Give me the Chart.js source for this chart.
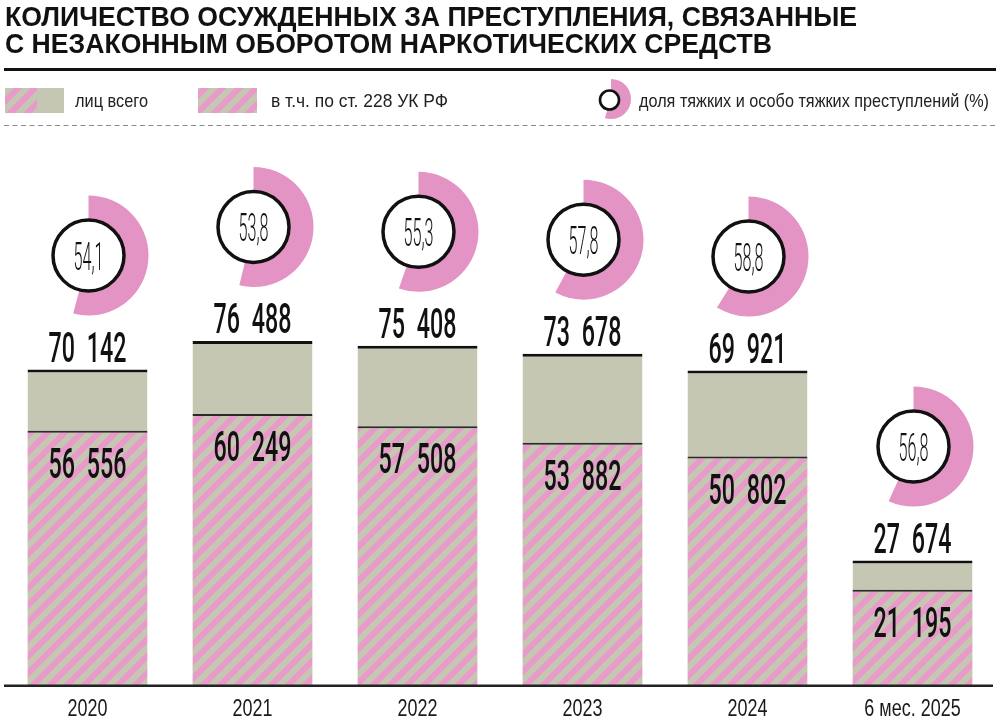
<!DOCTYPE html>
<html><head><meta charset="utf-8">
<script src="https://cdn.jsdelivr.net/npm/chart.js@4/dist/chart.umd.min.js"></script>
<style>html,body{margin:0;padding:0;background:#fff}canvas{display:block}</style>
</head><body>
<canvas id="c" width="1000" height="724"></canvas>
<script>
const categories = ['2020', '2021', '2022', '2023', '2024', '6 мес. 2025'];
const totalConvicted = [70142, 76488, 75408, 73678, 69921, 27674];
const art228Convicted = [56556, 60249, 57508, 53882, 50802, 21195];
const gravePercent = [54.1, 53.8, 55.3, 57.8, 58.8, 56.8];
const titleLines = ['КОЛИЧЕСТВО ОСУЖДЕННЫХ ЗА ПРЕСТУПЛЕНИЯ, СВЯЗАННЫЕ', 'С НЕЗАКОННЫМ ОБОРОТОМ НАРКОТИЧЕСКИХ СРЕДСТВ'];
const legendLabels = ['лиц всего', 'в т.ч. по ст. 228 УК РФ', 'доля тяжких и особо тяжких преступлений (%)'];

const PINK = '#e89bca', GREY = '#c6c7b3', RING = '#e393c4', INK = '#111111';
const canvas = document.getElementById('c');
const ctx0 = canvas.getContext('2d');

function makePattern() {
  const P = 17;
  const c = document.createElement('canvas'); c.width = P; c.height = P;
  const g = c.getContext('2d');
  g.fillStyle = GREY; g.fillRect(0, 0, P, P);
  g.fillStyle = PINK;
  for (let k = 0; k < 3; k++) {
    const a = k * P, b = k * P + P / 2;
    g.beginPath(); g.moveTo(a, 0); g.lineTo(b, 0); g.lineTo(b - P, P); g.lineTo(a - P, P); g.closePath(); g.fill();
  }
  return ctx0.createPattern(c, 'repeat');
}
const stripes = makePattern();

function fmt(n) { return String(n).replace(/\B(?=(\d{3})+(?!\d))/g, '\u2002'); }
function fmtPct(v) { return v.toFixed(1).replace('.', ','); }

function txt(ctx, s, x, y, font, sx, align, color) {
  ctx.save();
  ctx.font = font; ctx.fillStyle = color || INK; ctx.textBaseline = 'alphabetic';
  ctx.textAlign = align || 'left';
  ctx.translate(x, y); ctx.scale(sx, 1); ctx.fillText(s, 0, 0);
  ctx.restore();
}
function widthOf(ctx, s, font) { ctx.save(); ctx.font = font; const w = ctx.measureText(s).width; ctx.restore(); return w; }
function fitTxt(ctx, s, x, y, font, w, color) { txt(ctx, s, x, y, font, w / widthOf(ctx, s, font), 'left', color); }

const deco = {
  id: 'deco',
  beforeDraw(chart) {
    const ctx = chart.ctx;
    // title
    const tf = 'bold 27px "Liberation Sans", Arial, sans-serif';
    fitTxt(ctx, titleLines[0], 5, 26, tf, 852);
    fitTxt(ctx, titleLines[1], 5, 53, tf, 767);
    ctx.save();
    ctx.fillStyle = INK; ctx.fillRect(4, 68, 992, 3);
    // legend swatches
    ctx.fillStyle = GREY; ctx.fillRect(5, 88, 59, 25);
    ctx.save(); ctx.beginPath(); ctx.rect(5, 88, 32, 25); ctx.clip();
    ctx.fillStyle = stripes; ctx.fillRect(5, 88, 59, 25); ctx.restore();
    ctx.fillStyle = stripes; ctx.fillRect(198, 88, 59, 25);
    // legend ring icon
    ctx.fillStyle = RING;
    ctx.beginPath();
    const s0 = -Math.PI / 2, s1 = s0 + 0.55 * Math.PI * 2;
    ctx.arc(611, 99, 20, s0, s1); ctx.arc(611, 99, 9, s1, s0, true); ctx.closePath(); ctx.fill();
    ctx.beginPath(); ctx.arc(609.5, 100, 9.5, 0, Math.PI * 2);
    ctx.fillStyle = '#fff'; ctx.fill(); ctx.lineWidth = 2.6; ctx.strokeStyle = INK; ctx.stroke();
    // dashed line
    ctx.setLineDash([5, 3.5]); ctx.lineWidth = 1; ctx.strokeStyle = '#8a8a8a';
    ctx.beginPath(); ctx.moveTo(4, 125.5); ctx.lineTo(996, 125.5); ctx.stroke();
    ctx.restore();
    const lf = '19px "Liberation Sans", Arial, sans-serif';
    fitTxt(ctx, legendLabels[0], 75, 107, lf, 73, '#222');
    fitTxt(ctx, legendLabels[1], 271, 107, lf, 177, '#222');
    fitTxt(ctx, legendLabels[2], 639, 107, lf, 350, '#222');
  },
  afterDatasetsDraw(chart) {
    const ctx = chart.ctx;
    const xs = chart.scales.x, ys = chart.scales.y;
    const nf = '500 43px Roboto, "Liberation Sans", sans-serif';
    const nsx = 78 / widthOf(ctx, fmt(70142), nf);
    const pf = '300 39px Roboto, "Liberation Sans", sans-serif';
    const psx = 30 / widthOf(ctx, fmtPct(54.1), pf);
    categories.forEach((c, i) => {
      const cx = xs.getPixelForValue(i);
      const topY = ys.getPixelForValue(totalConvicted[i]);
      const midY = ys.getPixelForValue(art228Convicted[i]);
      txt(ctx, fmt(totalConvicted[i]), cx, topY - 8, nf, nsx, 'center');
      txt(ctx, fmt(art228Convicted[i]), cx, midY + 47, nf, nsx, 'center');
      // ring
      const rx = cx + 1, ry = topY - 114;
      const a0 = -Math.PI / 2, a1 = a0 + gravePercent[i] / 100 * Math.PI * 2;
      ctx.save();
      ctx.fillStyle = RING;
      ctx.beginPath(); ctx.arc(rx, ry, 60, a0, a1); ctx.arc(rx, ry, 36, a1, a0, true); ctx.closePath(); ctx.fill();
      ctx.beginPath(); ctx.arc(rx, ry, 35.5, 0, Math.PI * 2);
      ctx.fillStyle = '#fff'; ctx.fill(); ctx.lineWidth = 3.5; ctx.strokeStyle = INK; ctx.stroke();
      ctx.restore();
      txt(ctx, fmtPct(gravePercent[i]), rx, ry + 14, pf, psx, 'center');
    });
  },
  afterDraw(chart) {
    const ctx = chart.ctx;
    const xs = chart.scales.x;
    ctx.save(); ctx.fillStyle = '#222'; ctx.fillRect(4, 684.5, 989, 2.5); ctx.restore();
    const yf = '24px "Liberation Sans", Arial, sans-serif';
    const ysx = 40 / widthOf(ctx, '2020', yf);
    categories.forEach((c, i) => {
      txt(ctx, c, xs.getPixelForValue(i), 716, yf, ysx, 'center', '#1a1a1a');
    });
  }
};

new Chart(canvas, {
  type: 'bar',
  data: {
    labels: categories,
    datasets: [
      {
        label: legendLabels[1], data: art228Convicted, order: 1,
        backgroundColor: stripes, borderColor: '#2a2a2a',
        borderWidth: { top: 2, left: 0, right: 0, bottom: 0 }, borderSkipped: 'start',
        barPercentage: 0.727, categoryPercentage: 1, grouped: false
      },
      {
        label: legendLabels[0], data: totalConvicted, order: 2,
        backgroundColor: GREY, borderColor: INK,
        borderWidth: { top: 3, left: 0, right: 0, bottom: 0 }, borderSkipped: 'start',
        barPercentage: 0.727, categoryPercentage: 1, grouped: false
      }
    ]
  },
  options: {
    responsive: false, devicePixelRatio: 1, animation: false,
    layout: { padding: { top: 130, bottom: 39, left: 5, right: 5 } },
    plugins: { legend: { display: false }, tooltip: { enabled: false } },
    scales: {
      x: { display: false },
      y: { display: false, min: 0, max: 123400 }
    }
  },
  plugins: [deco]
});
</script>
</body></html>
